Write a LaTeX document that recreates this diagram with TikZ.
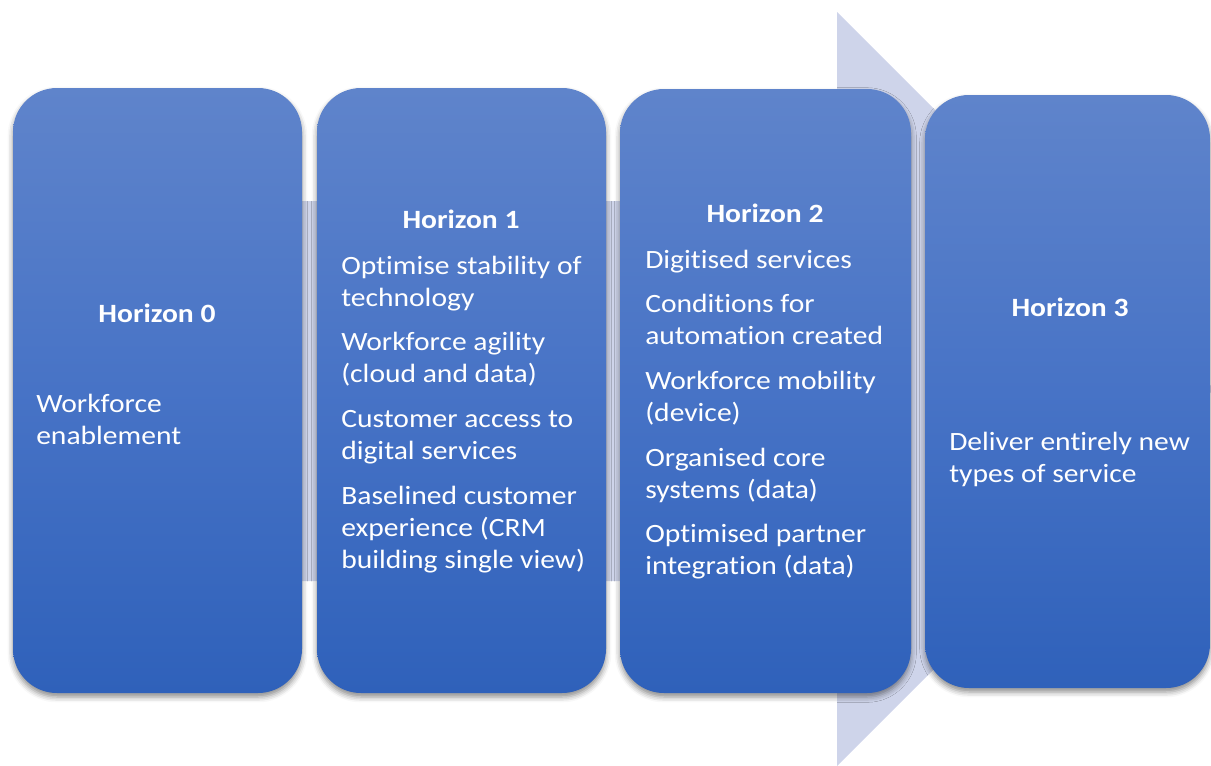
\documentclass[tikz,border=0pt]{standalone}
\usepackage{fontspec}
\setmainfont{Carlito}[Ligatures={NoCommon}, FakeStretch=1.12]
\usetikzlibrary{shadows.blur}

\definecolor{arrowlilac}{HTML}{CED4EA}
\definecolor{boxtop}{HTML}{5F84CB}
\definecolor{boxmid}{HTML}{4773C6}
\definecolor{boxbottom}{HTML}{2F61BA}

\newcommand{\horizonitems}[1]{\parbox[t]{300pt}{\raggedright\setlength{\parskip}{9.5pt}#1}}

\begin{document}
\begin{tikzpicture}[x=0.75pt, y=-0.75pt]

\useasboundingbox (0,0) rectangle (1211,765);
\clip (0,0) rectangle (1211,765);

% background arrow

\def\shafttop{201}
\def\shaftbottom{581}
\def\headx{837}

\fill [arrowlilac] (20, \shafttop) -- (\headx, \shafttop) -- (\headx, 12) -- (1214, 389)
	-- (\headx, 766) -- (\headx, \shaftbottom) -- (20, \shaftbottom) -- cycle ;

% horizon boxes

\tikzstyle{horizon box} = [rounded corners=33pt, top color=boxtop, bottom color=boxbottom, middle color=boxmid,
	blur shadow={shadow xshift=0pt, shadow yshift=-3pt, shadow blur radius=4pt, shadow opacity=45}]

\foreach \xl/\yt/\xr/\yb in {13/88/302/693, 317/88/606/693, 620/89/911/693, 925/95/1210/688}
	\path [horizon box] (\xl, \yt) rectangle (\xr, \yb) ;

% text

\tikzstyle{horizon title} = [font=\bfseries\fontsize{19.8}{24}\selectfont, text=white, inner sep=0pt, anchor=base]
\tikzstyle{horizon text} = [font=\fontsize{19.8}{24}\selectfont, text=white, inner sep=0pt, anchor=base west]

\node [horizon title] (title0) at (157, 322) {Horizon 0} ;
\node [horizon title] (title1) at (461, 228) {Horizon 1} ;
\node [horizon title] (title2) at (765, 222) {Horizon 2} ;
\node [horizon title] (title3) at (1070, 316) {Horizon 3} ;

\node [horizon text] (items0) at (36, 412) {\horizonitems{Workforce\\enablement}} ;

\node [horizon text] (items1) at (341, 274) {\horizonitems{%
	Optimise stability of\\technology\par
	Workforce agility\\(cloud and data)\par
	Customer access to\\digital services\par
	Baselined customer\\experience (CRM\\building single view)}} ;

\node [horizon text] (items2) at (645, 268) {\horizonitems{%
	Digitised services\par
	Conditions for\\automation created\par
	Workforce mobility\\(device)\par
	Organised core\\systems (data)\par
	Optimised partner\\integration (data)}} ;

\node [horizon text] (items3) at (949, 450) {\horizonitems{Deliver entirely new\\types of service}} ;

\end{tikzpicture}
\end{document}
